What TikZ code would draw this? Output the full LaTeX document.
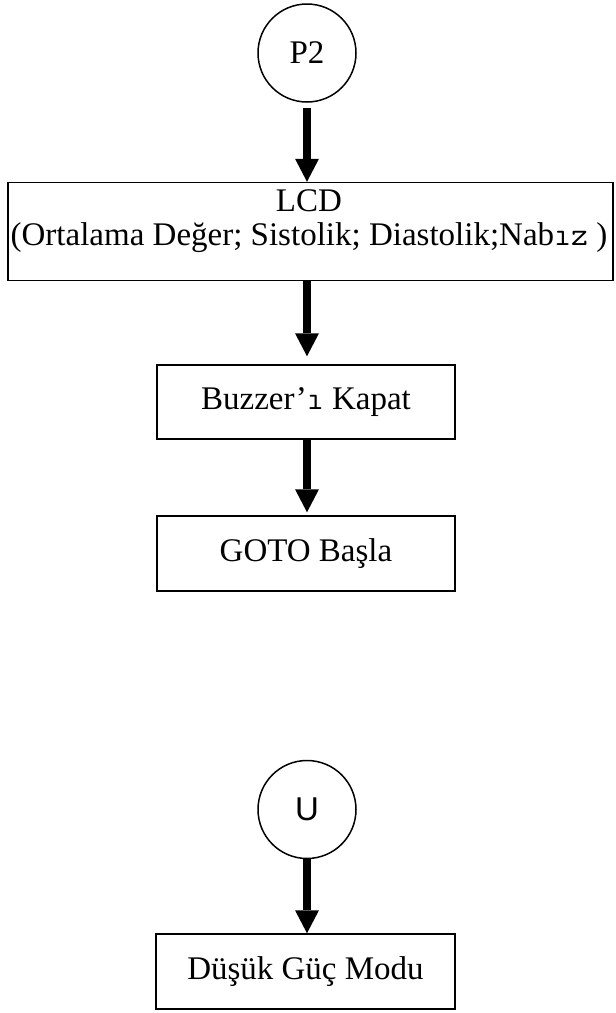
\documentclass[tikz,border=0pt]{standalone}
\usepackage{fontspec}
\setmainfont{Liberation Serif}
\newfontfamily\sansf{Liberation Sans}
\usetikzlibrary{arrows.meta}
\begin{document}
\begin{tikzpicture}[x=1pt,y=1pt,
  box/.style={draw, line width=1.5pt, rectangle, inner sep=0pt},
  conn/.style={circle, draw, line width=1.5pt, minimum size=98pt, inner sep=0pt},
  arr/.style={line width=8pt, -{Triangle[width=24pt,length=23pt,line width=0pt]}},
  font=\fontsize{33}{34}\selectfont]
\useasboundingbox (0,0) rectangle (616,-1013);
\node[conn] (p2) at (307,-53) {P2};
\node[box, minimum width=605pt, minimum height=98pt] (lcd) at (310.5,-231.5) {};
\node[align=center, inner sep=0pt] (lcdtext) at (309,-221) {LCD\\(Ortalama Değer; Sistolik; Diastolik;Nab{\ttfamily ız} )};
\node[box, minimum width=298pt, minimum height=74pt] (buz) at (306,-402) {Buzzer’{\ttfamily ı} Kapat};
\node[box, minimum width=298pt, minimum height=75pt] (goto) at (306,-553.5) {GOTO Başla};
\node[conn, font=\sansf\fontsize{33}{34}\selectfont] (u) at (307,-809.5) {U};
\node[box, minimum width=299pt, minimum height=75pt] (dusuk) at (305.5,-971.5) {Düşük Güç Modu};
\draw[arr, shorten <=5pt] (p2.south) -- (p2.south |- lcd.north);
\draw[arr, shorten >=8pt] (p2.south |- lcd.south) -- (p2.south |- buz.north);
\draw[arr, shorten >=3pt] (p2.south |- buz.south) -- (p2.south |- goto.north);
\draw[arr] (u.south) -- (u.south |- dusuk.north);
\end{tikzpicture}
\end{document}
